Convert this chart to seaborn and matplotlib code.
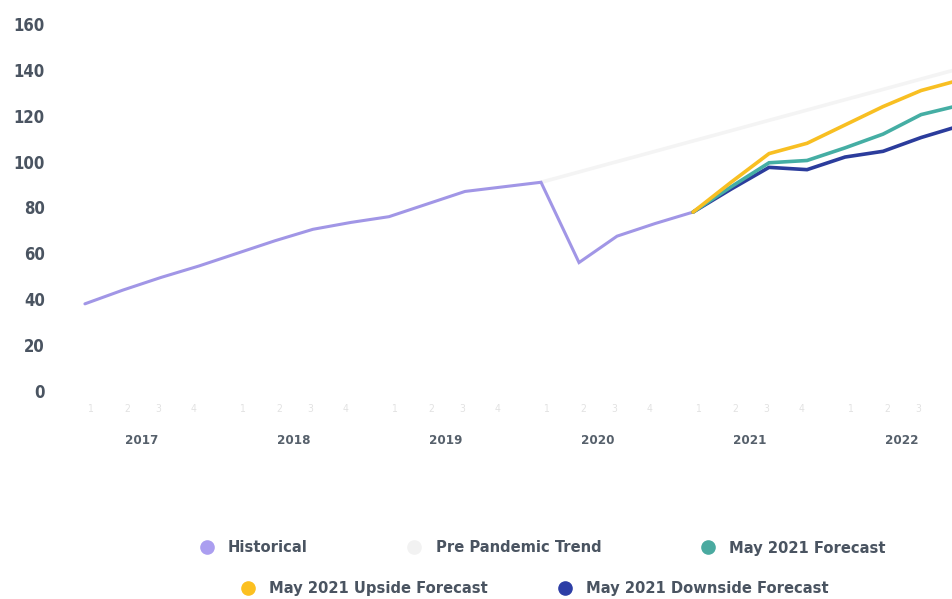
import matplotlib
matplotlib.use("Agg")
import matplotlib.pyplot as plt
from matplotlib.lines import Line2D
from matplotlib.transforms import blended_transform_factory
import seaborn as sns
import pandas as pd

# ---------------- data ----------------
hist_quarters = ["2017Q1", "2017Q2", "2017Q3", "2017Q4",
                 "2018Q1", "2018Q2", "2018Q3", "2018Q4",
                 "2019Q1", "2019Q2", "2019Q3", "2019Q4",
                 "2020Q1", "2020Q2", "2020Q3", "2020Q4", "2021Q1"]
hist_values = [38, 44, 49.5, 54.5, 60, 65.5, 70.5, 73.5,
               76, 81.5, 87, 89, 91, 56, 67.5, 73, 78]

trend_quarters = ["2020Q1", "2020Q2", "2020Q3", "2020Q4",
                  "2021Q1", "2021Q2", "2021Q3", "2021Q4",
                  "2022Q1", "2022Q2", "2022Q3", "2022Q4"]
trend_values = [91, 95.5, 100, 104.5, 109, 113.5, 118, 122.5, 127, 131.5, 136, 140.5]

fc_quarters = ["2021Q1", "2021Q2", "2021Q3", "2021Q4",
               "2022Q1", "2022Q2", "2022Q3", "2022Q4"]
base_values = [78, 89, 99.5, 100.5, 106, 112, 120.5, 124.5]
upside_values = [78, 91, 103.5, 108, 116, 124, 131, 135.5]
downside_values = [78, 88, 97.5, 96.5, 102, 104.5, 110.5, 115.5]

years = [2017, 2018, 2019, 2020, 2021, 2022]
quarter_labels = ["1", "2", "3", "4"]
y_ticks = [0, 20, 40, 60, 80, 100, 120, 140, 160]

series_names = ["Historical", "Pre Pandemic Trend", "May 2021 Forecast",
                "May 2021 Upside Forecast", "May 2021 Downside Forecast"]
colors = {
    "Historical": "#a196e6",
    "Pre Pandemic Trend": "#f4f4f4",
    "May 2021 Forecast": "#45aea4",
    "May 2021 Upside Forecast": "#f8bf22",
    "May 2021 Downside Forecast": "#2b3c9c",
}
legend_dot_colors = {
    "Historical": "#ab9ef0",
    "Pre Pandemic Trend": "#f2f2f2",
    "May 2021 Forecast": "#4aaaa0",
    "May 2021 Upside Forecast": "#fcc020",
    "May 2021 Downside Forecast": "#2d3ea6",
}


def q_to_num(q):
    y, qq = q.split("Q")
    return int(y) + (int(qq) - 0.5) / 4.0


frames = []
for name, qs, vals in [
    ("Pre Pandemic Trend", trend_quarters, trend_values),
    ("Historical", hist_quarters, hist_values),
    ("May 2021 Downside Forecast", fc_quarters, downside_values),
    ("May 2021 Forecast", fc_quarters, base_values),
    ("May 2021 Upside Forecast", fc_quarters, upside_values),
]:
    frames.append(pd.DataFrame({"t": [q_to_num(q) for q in qs], "value": vals, "series": name}))
df = pd.concat(frames, ignore_index=True)

# ---------------- style ----------------
sns.set_theme(style="white")
plt.rcParams["font.family"] = ["DejaVu Sans"]
plt.rcParams["font.stretch"] = "condensed"
ST = "condensed"

text_color = "#4a5461"

fig = plt.figure(figsize=(9.53, 5.99), dpi=100)
ax = fig.add_axes([60 / 953, 1 - 391 / 599, 893 / 953, (391 - 24) / 599])

for name in ["Pre Pandemic Trend", "Historical", "May 2021 Downside Forecast",
             "May 2021 Forecast", "May 2021 Upside Forecast"]:
    sub = df[df["series"] == name]
    sns.lineplot(data=sub, x="t", y="value", ax=ax, color=colors[name],
                 linewidth=2.6 if name != "Historical" else 2.2,
                 legend=False, solid_joinstyle="miter", clip_on=False)

ax.set_xlim(2016.961, 2022.835)
ax.set_ylim(0, 160)
ax.set_xlabel("")
ax.set_ylabel("")
for s in ax.spines.values():
    s.set_visible(False)
ax.grid(False)

ax.set_yticks(y_ticks)
ax.set_yticklabels([str(v) for v in y_ticks], fontsize=12, fontweight="bold",
                   color=text_color, fontstretch=ST)
ax.tick_params(axis="y", length=0, pad=11)

# quarter ticks
q_offsets = [0.158, 0.401, 0.605, 0.836]
xt, xl = [], []
for y in years:
    for off, lab in zip(q_offsets, quarter_labels):
        if y + off < 2022.8:
            xt.append(y + off)
            xl.append(lab)
ax.set_xticks(xt)
ax.set_xticklabels(xl, fontsize=7.5, color="#e2e2e2", fontstretch=ST)
ax.tick_params(axis="x", length=0, pad=9)

trans = blended_transform_factory(ax.transData, fig.transFigure)
for y in years:
    ax.text(y + 0.5, 1 - 440 / 599, str(y), transform=trans, ha="center", va="center",
            fontsize=9.5, fontweight="bold", color="#56606b", clip_on=False, fontstretch=ST)

# legends (two centered rows)
def handles_for(names):
    return [Line2D([], [], marker="o", linestyle="", markersize=9.5,
                   markerfacecolor=legend_dot_colors[n], markeredgecolor=legend_dot_colors[n])
            for n in names]

prop = {"size": 11.8, "weight": "bold", "family": "DejaVu Sans", "stretch": ST}
row1 = series_names[:3]
row2 = series_names[3:]
leg1 = fig.legend(handles_for(row1), row1, loc="center", bbox_to_anchor=(542 / 953, 1 - 548 / 599),
                  ncol=3, frameon=False, columnspacing=6.0, handletextpad=0.8,
                  handlelength=1.0, prop=prop)
for t in leg1.get_texts():
    t.set_color(text_color)
leg2 = fig.legend(handles_for(row2), row2, loc="center", bbox_to_anchor=(534 / 953, 1 - 589 / 599),
                  ncol=2, frameon=False, columnspacing=4.2, handletextpad=0.8,
                  handlelength=1.0, prop=prop)
for t in leg2.get_texts():
    t.set_color(text_color)

fig.savefig("out.png", dpi=100, facecolor="white")
